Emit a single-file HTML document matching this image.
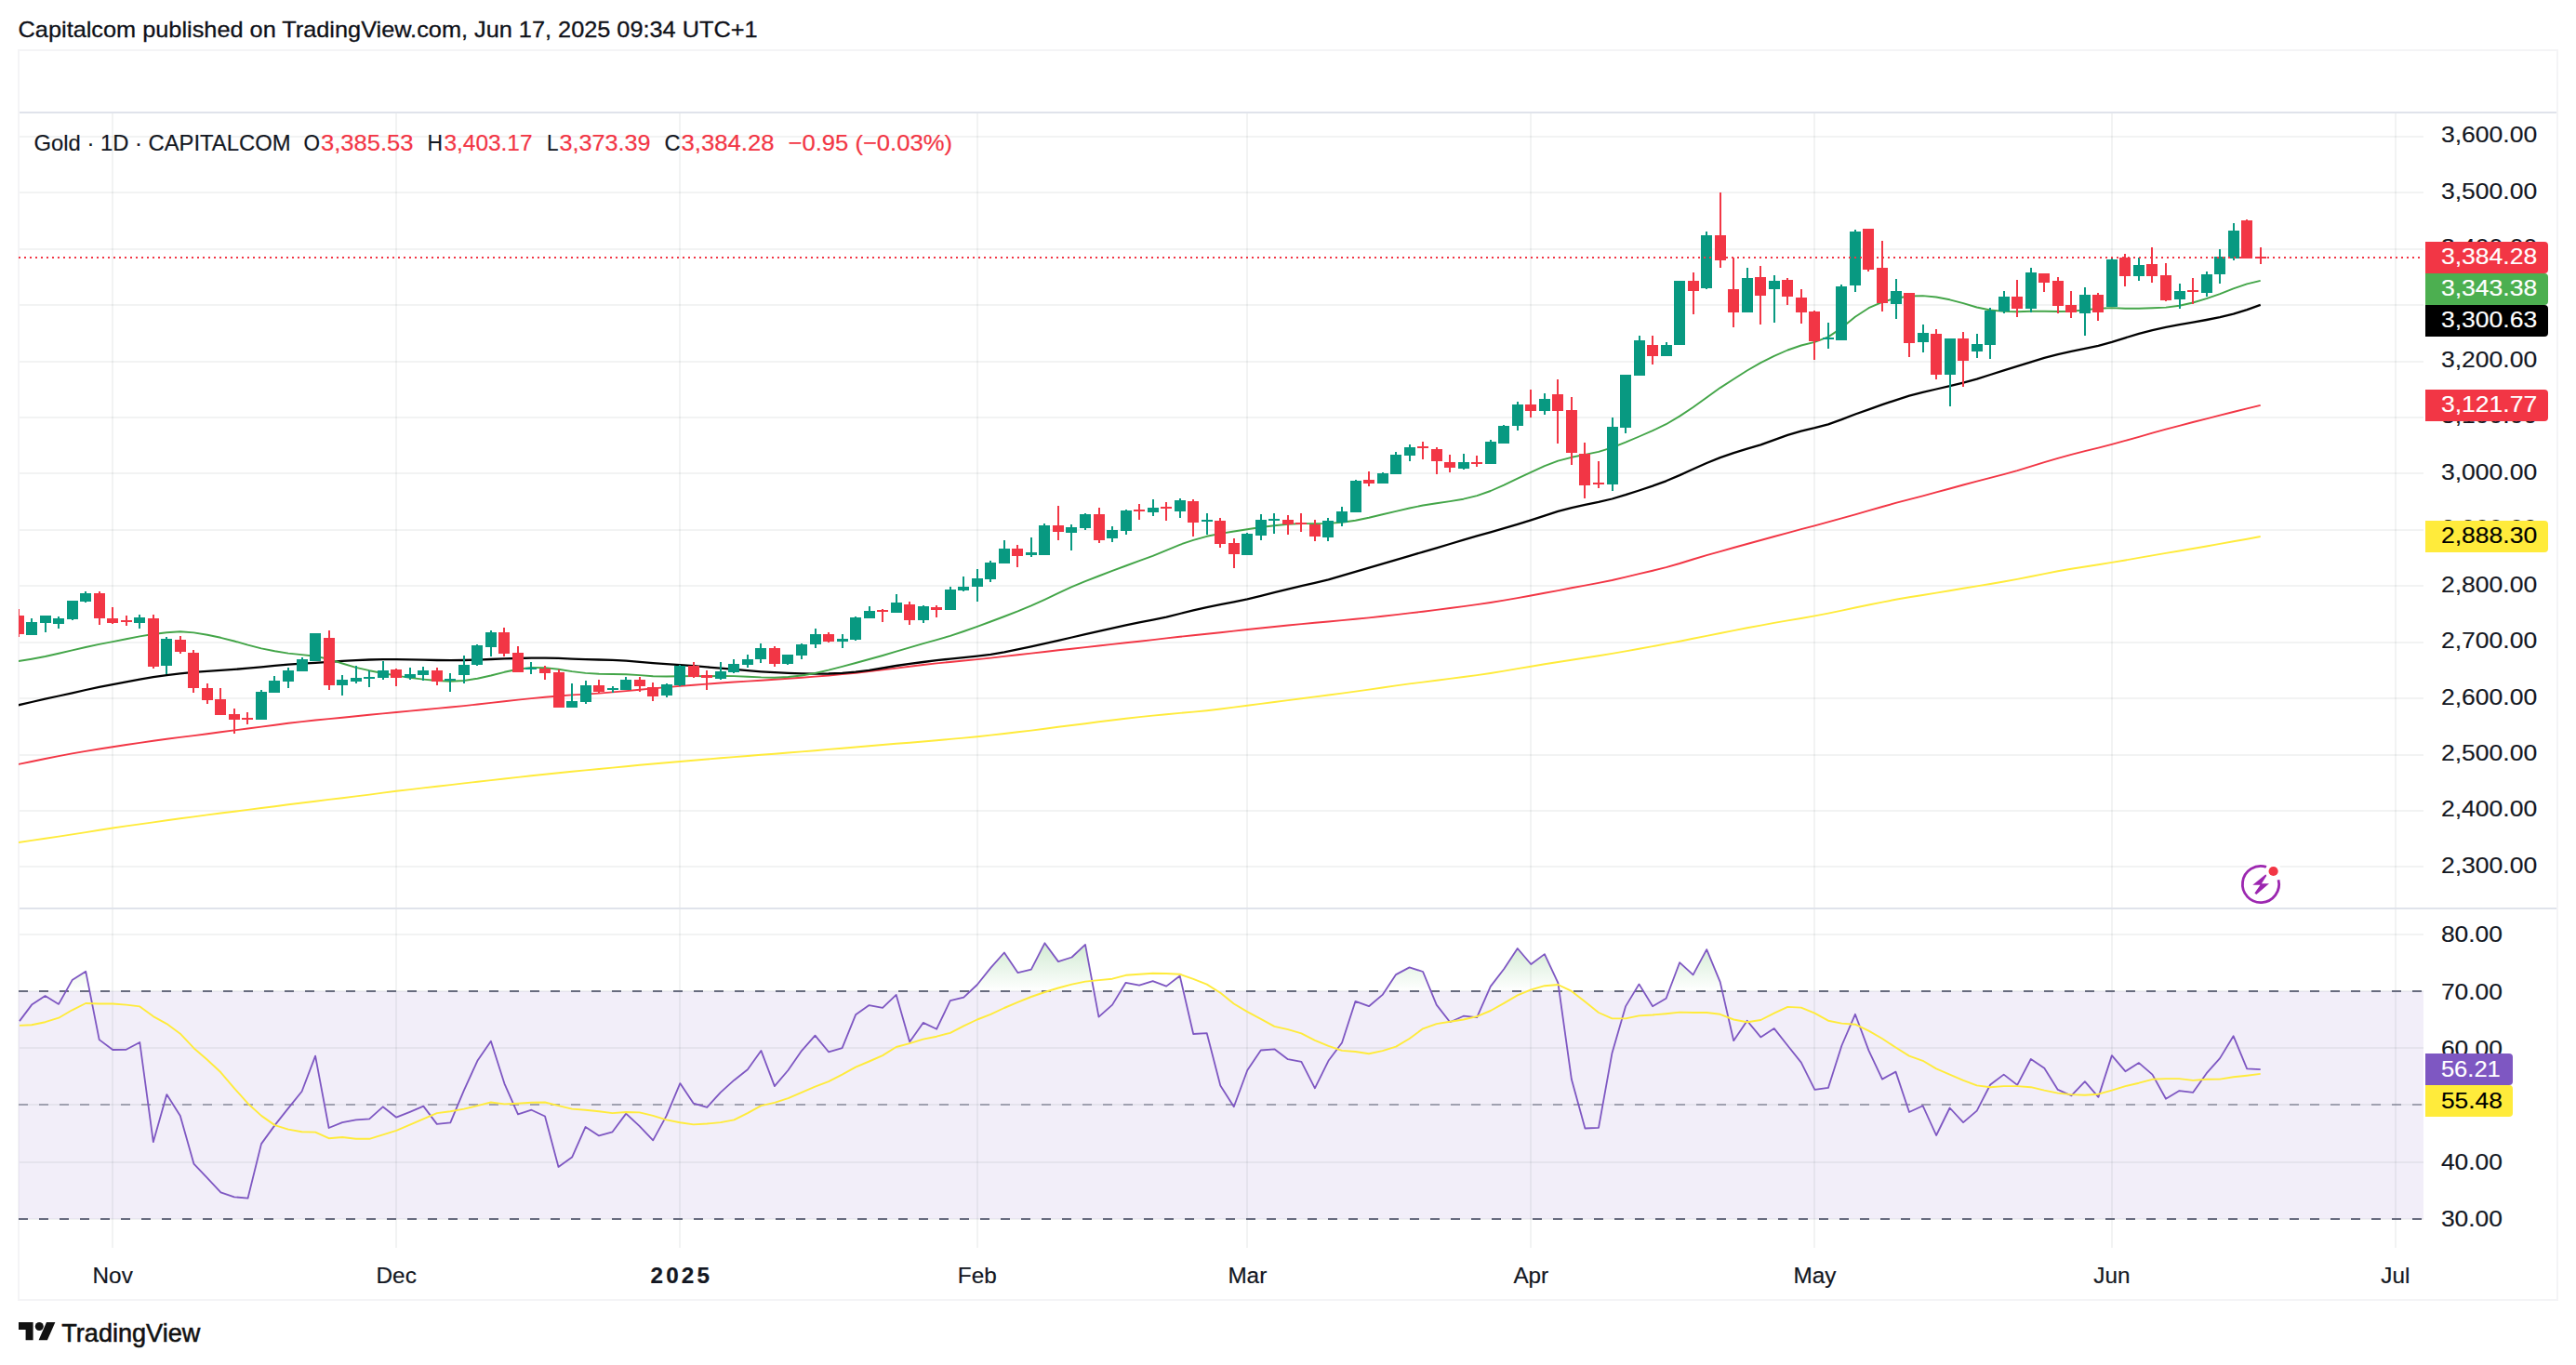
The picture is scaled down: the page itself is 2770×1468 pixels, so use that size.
<!DOCTYPE html>
<html lang="en"><head><meta charset="utf-8"><title>Gold 1D chart</title>
<style>html,body{margin:0;padding:0;background:#fff;width:2770px;height:1468px;overflow:hidden}svg{display:block}svg text{font-family:"Liberation Sans",Arial,sans-serif;white-space:pre}</style></head>
<body>
<svg width="2770" height="1468" viewBox="0 0 2770 1468">
<defs><linearGradient id="ob" gradientUnits="userSpaceOnUse" x1="0" y1="882.4" x2="0" y2="1066.0"><stop offset="0" stop-color="#4CAF50" stop-opacity="1"/><stop offset="1" stop-color="#4CAF50" stop-opacity="0"/></linearGradient>
<clipPath id="main"><rect x="20" y="122" width="2586" height="854"/></clipPath>
<clipPath id="ob70"><rect x="21" y="978" width="2586" height="88.0"/></clipPath></defs>
<rect width="2770" height="1468" fill="#fff"/>
<text x="19.6" y="40" font-size="24" fill="#0f1118" stroke="#0f1118" stroke-width="0.3" textLength="795" lengthAdjust="spacingAndGlyphs">Capitalcom published on TradingView.com, Jun 17, 2025 09:34 UTC+1</text>
<rect x="20" y="54" width="2730" height="1344" fill="none" stroke="#f4f4f6" stroke-width="2"/>
<rect x="20" y="1066.0" width="2586" height="244.8" fill="#7E57C2" fill-opacity="0.1"/>
<rect x="120" y="122" width="2" height="1220" fill="#2a2e39" fill-opacity="0.06"/>
<rect x="425" y="122" width="2" height="1220" fill="#2a2e39" fill-opacity="0.06"/>
<rect x="730" y="122" width="2" height="1220" fill="#2a2e39" fill-opacity="0.06"/>
<rect x="1050" y="122" width="2" height="1220" fill="#2a2e39" fill-opacity="0.06"/>
<rect x="1340" y="122" width="2" height="1220" fill="#2a2e39" fill-opacity="0.06"/>
<rect x="1645" y="122" width="2" height="1220" fill="#2a2e39" fill-opacity="0.06"/>
<rect x="1950" y="122" width="2" height="1220" fill="#2a2e39" fill-opacity="0.06"/>
<rect x="2270" y="122" width="2" height="1220" fill="#2a2e39" fill-opacity="0.06"/>
<rect x="2575" y="122" width="2" height="1220" fill="#2a2e39" fill-opacity="0.06"/>
<rect x="21" y="931" width="2585" height="2" fill="#2a2e39" fill-opacity="0.06"/>
<rect x="21" y="871" width="2585" height="2" fill="#2a2e39" fill-opacity="0.06"/>
<rect x="21" y="811" width="2585" height="2" fill="#2a2e39" fill-opacity="0.06"/>
<rect x="21" y="750" width="2585" height="2" fill="#2a2e39" fill-opacity="0.06"/>
<rect x="21" y="690" width="2585" height="2" fill="#2a2e39" fill-opacity="0.06"/>
<rect x="21" y="629" width="2585" height="2" fill="#2a2e39" fill-opacity="0.06"/>
<rect x="21" y="569" width="2585" height="2" fill="#2a2e39" fill-opacity="0.06"/>
<rect x="21" y="508" width="2585" height="2" fill="#2a2e39" fill-opacity="0.06"/>
<rect x="21" y="448" width="2585" height="2" fill="#2a2e39" fill-opacity="0.06"/>
<rect x="21" y="388" width="2585" height="2" fill="#2a2e39" fill-opacity="0.06"/>
<rect x="21" y="327" width="2585" height="2" fill="#2a2e39" fill-opacity="0.06"/>
<rect x="21" y="267" width="2585" height="2" fill="#2a2e39" fill-opacity="0.06"/>
<rect x="21" y="206" width="2585" height="2" fill="#2a2e39" fill-opacity="0.06"/>
<rect x="21" y="146" width="2585" height="2" fill="#2a2e39" fill-opacity="0.06"/>
<rect x="21" y="1004" width="2585" height="2" fill="#2a2e39" fill-opacity="0.06"/>
<rect x="21" y="1065" width="2585" height="2" fill="#2a2e39" fill-opacity="0.06"/>
<rect x="21" y="1126" width="2585" height="2" fill="#2a2e39" fill-opacity="0.06"/>
<rect x="21" y="1187" width="2585" height="2" fill="#2a2e39" fill-opacity="0.06"/>
<rect x="21" y="1249" width="2585" height="2" fill="#2a2e39" fill-opacity="0.06"/>
<rect x="21" y="1310" width="2585" height="2" fill="#2a2e39" fill-opacity="0.06"/>
<rect x="21" y="120" width="2728" height="2" fill="#e0e3eb"/>
<rect x="21" y="976" width="2728" height="2" fill="#e0e3eb"/>
<g clip-path="url(#main)" fill="none" stroke-linejoin="round" stroke-linecap="butt">
<path d="M5.0 908.1 L19.5 906.0 L34.1 903.9 L48.6 901.8 L63.1 899.6 L77.6 897.4 L92.2 895.1 L106.7 892.8 L121.2 890.5 L135.7 888.4 L150.3 886.4 L164.8 884.4 L179.3 882.3 L193.8 880.3 L208.4 878.4 L222.9 876.4 L237.4 874.5 L251.9 872.7 L266.5 870.9 L281.0 869.0 L295.5 867.2 L310.0 865.3 L324.6 863.5 L339.1 861.7 L353.6 859.9 L368.1 858.2 L382.7 856.4 L397.2 854.6 L411.7 852.6 L426.2 850.8 L440.8 849.1 L455.3 847.4 L469.8 845.7 L484.3 844.1 L498.9 842.4 L513.4 840.7 L527.9 839.1 L542.4 837.5 L557.0 835.9 L571.5 834.3 L586.0 832.8 L600.5 831.3 L615.1 829.8 L629.6 828.4 L644.1 827.0 L658.6 825.6 L673.2 824.2 L687.7 822.8 L702.2 821.5 L716.7 820.2 L731.3 819.0 L745.8 817.8 L760.3 816.5 L774.8 815.3 L789.4 814.1 L803.9 813.0 L818.4 811.8 L832.9 810.7 L847.5 809.5 L862.0 808.4 L876.5 807.2 L891.0 805.9 L905.6 804.7 L920.1 803.5 L934.6 802.3 L949.1 801.0 L963.7 799.8 L978.2 798.7 L992.7 797.5 L1007.2 796.3 L1021.8 794.9 L1036.3 793.6 L1050.8 792.2 L1065.3 790.6 L1079.9 789.0 L1094.4 787.3 L1108.9 785.6 L1123.4 783.7 L1138.0 781.8 L1152.5 780.0 L1167.0 778.2 L1181.5 776.3 L1196.1 774.5 L1210.6 772.7 L1225.1 771.1 L1239.6 769.6 L1254.2 768.2 L1268.7 766.9 L1283.2 765.6 L1297.7 764.2 L1312.3 762.5 L1326.8 760.6 L1341.3 758.7 L1355.8 756.9 L1370.4 755.0 L1384.9 753.1 L1399.4 751.3 L1413.9 749.4 L1428.5 747.5 L1443.0 745.6 L1457.5 743.6 L1472.0 741.6 L1486.6 739.5 L1501.1 737.4 L1515.6 735.4 L1530.1 733.6 L1544.7 731.8 L1559.2 729.9 L1573.7 728.0 L1588.2 726.1 L1602.8 724.0 L1617.3 721.6 L1631.8 719.1 L1646.3 716.7 L1660.9 714.3 L1675.4 712.0 L1689.9 709.7 L1704.4 707.5 L1719.0 705.2 L1733.5 702.9 L1748.0 700.4 L1762.5 697.8 L1777.1 695.1 L1791.6 692.4 L1806.1 689.7 L1820.6 686.8 L1835.2 683.9 L1849.7 681.0 L1864.2 678.1 L1878.7 675.3 L1893.3 672.6 L1907.8 669.9 L1922.3 667.4 L1936.8 665.0 L1951.4 662.4 L1965.9 659.6 L1980.4 656.6 L1994.9 653.5 L2009.5 650.5 L2024.0 647.6 L2038.5 644.8 L2053.0 642.3 L2067.6 640.0 L2082.1 637.6 L2096.6 635.2 L2111.1 632.8 L2125.7 630.4 L2140.2 628.0 L2154.7 625.5 L2169.2 622.9 L2183.8 620.0 L2198.3 617.1 L2212.8 614.3 L2227.3 611.8 L2241.9 609.5 L2256.4 607.3 L2270.9 604.9 L2285.4 602.5 L2300.0 599.9 L2314.5 597.4 L2329.0 594.9 L2343.5 592.5 L2358.1 590.0 L2372.6 587.5 L2387.1 584.9 L2401.6 582.3 L2416.2 579.7 L2430.7 577.0" stroke="#FFEB3B" stroke-width="1.9"/>
<path d="M5.0 825.0 L19.5 822.0 L34.1 819.0 L48.6 816.0 L63.1 813.1 L77.6 810.4 L92.2 807.9 L106.7 805.5 L121.2 803.2 L135.7 801.0 L150.3 798.9 L164.8 796.8 L179.3 794.8 L193.8 792.9 L208.4 791.1 L222.9 789.2 L237.4 787.3 L251.9 785.4 L266.5 783.5 L281.0 781.6 L295.5 779.7 L310.0 777.8 L324.6 776.1 L339.1 774.5 L353.6 773.1 L368.1 771.7 L382.7 770.3 L397.2 768.8 L411.7 767.4 L426.2 766.0 L440.8 764.6 L455.3 763.3 L469.8 761.9 L484.3 760.5 L498.9 759.1 L513.4 757.5 L527.9 755.9 L542.4 754.2 L557.0 752.6 L571.5 751.1 L586.0 749.7 L600.5 748.5 L615.1 747.4 L629.6 746.6 L644.1 745.6 L658.6 744.4 L673.2 743.1 L687.7 741.8 L702.2 740.4 L716.7 739.1 L731.3 737.9 L745.8 736.7 L760.3 735.6 L774.8 734.5 L789.4 733.5 L803.9 732.6 L818.4 731.8 L832.9 730.8 L847.5 729.8 L862.0 728.7 L876.5 727.6 L891.0 726.5 L905.6 725.1 L920.1 723.7 L934.6 722.1 L949.1 720.4 L963.7 718.6 L978.2 716.7 L992.7 715.0 L1007.2 713.4 L1021.8 712.0 L1036.3 710.5 L1050.8 709.1 L1065.3 707.6 L1079.9 705.9 L1094.4 704.3 L1108.9 702.6 L1123.4 701.0 L1138.0 699.3 L1152.5 697.7 L1167.0 696.1 L1181.5 694.5 L1196.1 692.9 L1210.6 691.3 L1225.1 689.7 L1239.6 688.1 L1254.2 686.4 L1268.7 684.8 L1283.2 683.3 L1297.7 681.7 L1312.3 680.2 L1326.8 678.6 L1341.3 677.0 L1355.8 675.5 L1370.4 674.0 L1384.9 672.5 L1399.4 671.1 L1413.9 669.8 L1428.5 668.5 L1443.0 667.1 L1457.5 665.8 L1472.0 664.4 L1486.6 662.8 L1501.1 661.1 L1515.6 659.4 L1530.1 657.7 L1544.7 655.9 L1559.2 654.0 L1573.7 652.1 L1588.2 650.1 L1602.8 648.0 L1617.3 645.6 L1631.8 643.1 L1646.3 640.5 L1660.9 637.8 L1675.4 635.1 L1689.9 632.3 L1704.4 629.6 L1719.0 626.9 L1733.5 624.0 L1748.0 620.6 L1762.5 617.2 L1777.1 613.8 L1791.6 610.1 L1806.1 606.0 L1820.6 601.5 L1835.2 597.2 L1849.7 593.1 L1864.2 589.0 L1878.7 585.0 L1893.3 581.0 L1907.8 577.0 L1922.3 573.1 L1936.8 569.2 L1951.4 565.3 L1965.9 561.3 L1980.4 557.3 L1994.9 553.3 L2009.5 549.1 L2024.0 545.0 L2038.5 540.9 L2053.0 537.1 L2067.6 533.3 L2082.1 529.4 L2096.6 525.5 L2111.1 521.5 L2125.7 517.6 L2140.2 513.8 L2154.7 510.1 L2169.2 506.1 L2183.8 501.7 L2198.3 497.1 L2212.8 492.8 L2227.3 488.9 L2241.9 485.2 L2256.4 481.6 L2270.9 477.9 L2285.4 473.9 L2300.0 469.8 L2314.5 465.7 L2329.0 461.7 L2343.5 457.8 L2358.1 454.0 L2372.6 450.3 L2387.1 446.6 L2401.6 443.0 L2416.2 439.4 L2430.7 435.8" stroke="#F23645" stroke-width="1.9"/>
<path d="M5.0 761.7 L19.5 758.4 L34.1 755.0 L48.6 751.7 L63.1 748.5 L77.6 745.3 L92.2 742.0 L106.7 738.9 L121.2 736.1 L135.7 733.3 L150.3 730.6 L164.8 728.2 L179.3 726.1 L193.8 724.3 L208.4 722.9 L222.9 721.8 L237.4 720.9 L251.9 719.9 L266.5 718.7 L281.0 717.3 L295.5 715.9 L310.0 714.7 L324.6 713.7 L339.1 712.8 L353.6 711.8 L368.1 710.8 L382.7 710.1 L397.2 709.5 L411.7 709.1 L426.2 709.1 L440.8 709.4 L455.3 709.7 L469.8 710.0 L484.3 710.2 L498.9 710.0 L513.4 709.6 L527.9 709.0 L542.4 708.4 L557.0 708.0 L571.5 707.7 L586.0 707.6 L600.5 707.9 L615.1 708.6 L629.6 709.2 L644.1 709.5 L658.6 709.9 L673.2 710.7 L687.7 711.8 L702.2 713.1 L716.7 714.2 L731.3 715.2 L745.8 716.2 L760.3 717.4 L774.8 718.7 L789.4 719.9 L803.9 721.1 L818.4 722.3 L832.9 723.2 L847.5 723.9 L862.0 724.4 L876.5 724.6 L891.0 724.5 L905.6 723.9 L920.1 722.7 L934.6 720.9 L949.1 718.5 L963.7 716.0 L978.2 713.9 L992.7 712.0 L1007.2 710.2 L1021.8 708.6 L1036.3 707.1 L1050.8 705.6 L1065.3 703.8 L1079.9 701.3 L1094.4 698.4 L1108.9 695.3 L1123.4 692.1 L1138.0 688.8 L1152.5 685.5 L1167.0 682.2 L1181.5 678.9 L1196.1 675.6 L1210.6 672.3 L1225.1 669.3 L1239.6 666.6 L1254.2 663.6 L1268.7 660.0 L1283.2 656.4 L1297.7 653.1 L1312.3 650.2 L1326.8 647.4 L1341.3 644.4 L1355.8 640.9 L1370.4 637.2 L1384.9 633.7 L1399.4 630.2 L1413.9 626.9 L1428.5 623.3 L1443.0 619.1 L1457.5 614.8 L1472.0 610.6 L1486.6 606.4 L1501.1 602.1 L1515.6 597.8 L1530.1 593.6 L1544.7 589.4 L1559.2 585.0 L1573.7 580.6 L1588.2 576.4 L1602.8 572.3 L1617.3 568.2 L1631.8 563.9 L1646.3 559.4 L1660.9 554.6 L1675.4 549.9 L1689.9 546.1 L1704.4 542.8 L1719.0 539.9 L1733.5 536.5 L1748.0 532.2 L1762.5 527.5 L1777.1 522.6 L1791.6 517.3 L1806.1 511.1 L1820.6 504.5 L1835.2 498.0 L1849.7 492.1 L1864.2 487.1 L1878.7 482.7 L1893.3 478.3 L1907.8 473.1 L1922.3 467.9 L1936.8 463.7 L1951.4 460.2 L1965.9 456.3 L1980.4 451.1 L1994.9 445.5 L2009.5 440.3 L2024.0 435.2 L2038.5 430.3 L2053.0 425.7 L2067.6 421.8 L2082.1 418.5 L2096.6 415.1 L2111.1 411.6 L2125.7 407.6 L2140.2 403.0 L2154.7 398.3 L2169.2 393.9 L2183.8 389.3 L2198.3 384.9 L2212.8 381.1 L2227.3 377.9 L2241.9 374.9 L2256.4 371.8 L2270.9 367.8 L2285.4 363.3 L2300.0 358.9 L2314.5 355.1 L2329.0 351.9 L2343.5 349.2 L2358.1 346.6 L2372.6 344.0 L2387.1 341.2 L2401.6 337.6 L2416.2 333.1 L2430.7 327.9" stroke="#000000" stroke-width="2.3"/>
<path d="M5.0 713.5 L19.5 711.1 L34.1 708.7 L48.6 706.0 L63.1 702.7 L77.6 699.3 L92.2 696.0 L106.7 692.9 L121.2 690.1 L135.7 687.2 L150.3 684.4 L164.8 682.0 L179.3 680.2 L193.8 679.3 L208.4 680.4 L222.9 682.7 L237.4 685.8 L251.9 689.5 L266.5 693.7 L281.0 697.4 L295.5 700.3 L310.0 702.6 L324.6 704.1 L339.1 705.7 L353.6 708.9 L368.1 713.5 L382.7 717.8 L397.2 721.2 L411.7 724.0 L426.2 726.6 L440.8 728.9 L455.3 730.6 L469.8 732.0 L484.3 732.8 L498.9 732.0 L513.4 729.7 L527.9 726.5 L542.4 722.8 L557.0 719.7 L571.5 718.0 L586.0 718.1 L600.5 719.7 L615.1 722.1 L629.6 723.9 L644.1 724.7 L658.6 725.0 L673.2 725.3 L687.7 726.1 L702.2 727.2 L716.7 727.5 L731.3 727.2 L745.8 727.1 L760.3 727.2 L774.8 727.0 L789.4 727.1 L803.9 727.7 L818.4 728.4 L832.9 728.7 L847.5 728.0 L862.0 726.5 L876.5 724.0 L891.0 720.6 L905.6 716.8 L920.1 713.0 L934.6 709.0 L949.1 705.0 L963.7 700.7 L978.2 696.4 L992.7 692.2 L1007.2 688.2 L1021.8 683.9 L1036.3 679.0 L1050.8 673.8 L1065.3 668.5 L1079.9 663.0 L1094.4 657.4 L1108.9 651.4 L1123.4 644.8 L1138.0 637.9 L1152.5 631.2 L1167.0 625.1 L1181.5 619.5 L1196.1 613.9 L1210.6 608.5 L1225.1 603.2 L1239.6 597.8 L1254.2 591.8 L1268.7 585.8 L1283.2 580.8 L1297.7 576.8 L1312.3 573.9 L1326.8 571.5 L1341.3 569.2 L1355.8 567.0 L1370.4 565.3 L1384.9 563.8 L1399.4 563.1 L1413.9 563.1 L1428.5 562.9 L1443.0 561.8 L1457.5 559.7 L1472.0 556.7 L1486.6 553.3 L1501.1 549.9 L1515.6 546.5 L1530.1 543.5 L1544.7 541.2 L1559.2 539.1 L1573.7 536.7 L1588.2 533.1 L1602.8 528.0 L1617.3 521.6 L1631.8 514.7 L1646.3 507.8 L1660.9 501.2 L1675.4 495.7 L1689.9 491.8 L1704.4 488.9 L1719.0 485.9 L1733.5 481.4 L1748.0 475.7 L1762.5 469.5 L1777.1 463.2 L1791.6 456.2 L1806.1 447.6 L1820.6 438.0 L1835.2 427.5 L1849.7 417.1 L1864.2 407.7 L1878.7 398.5 L1893.3 390.2 L1907.8 382.9 L1922.3 376.5 L1936.8 371.5 L1951.4 367.8 L1965.9 362.4 L1980.4 352.6 L1994.9 340.8 L2009.5 331.2 L2024.0 324.8 L2038.5 320.7 L2053.0 318.5 L2067.6 318.1 L2082.1 319.5 L2096.6 322.3 L2111.1 326.1 L2125.7 330.5 L2140.2 333.5 L2154.7 334.9 L2169.2 335.2 L2183.8 334.8 L2198.3 334.8 L2212.8 335.0 L2227.3 334.7 L2241.9 333.4 L2256.4 331.7 L2270.9 331.1 L2285.4 331.8 L2300.0 331.8 L2314.5 331.3 L2329.0 330.6 L2343.5 328.7 L2358.1 325.5 L2372.6 321.2 L2387.1 316.1 L2401.6 310.3 L2416.2 305.3 L2430.7 301.9" stroke="#43A548" stroke-width="1.9"/>
</g>
<g clip-path="url(#main)" shape-rendering="crispEdges">
<rect x="19" y="655" width="2" height="30" fill="#F23645"/>
<rect x="14" y="662" width="12" height="20" fill="#F23645"/>
<rect x="33" y="665" width="2" height="18" fill="#089981"/>
<rect x="28" y="669" width="12" height="14" fill="#089981"/>
<rect x="48" y="662" width="2" height="18" fill="#089981"/>
<rect x="43" y="662" width="12" height="8" fill="#089981"/>
<rect x="62" y="663" width="2" height="13" fill="#089981"/>
<rect x="57" y="665" width="12" height="6" fill="#089981"/>
<rect x="77" y="646" width="2" height="21" fill="#089981"/>
<rect x="72" y="646" width="12" height="20" fill="#089981"/>
<rect x="91" y="636" width="2" height="12" fill="#089981"/>
<rect x="86" y="638" width="12" height="9" fill="#089981"/>
<rect x="106" y="636" width="2" height="36" fill="#F23645"/>
<rect x="101" y="638" width="12" height="27" fill="#F23645"/>
<rect x="120" y="653" width="2" height="18" fill="#F23645"/>
<rect x="115" y="665" width="12" height="5" fill="#F23645"/>
<rect x="135" y="662" width="2" height="11" fill="#F23645"/>
<rect x="130" y="667" width="12" height="2" fill="#F23645"/>
<rect x="149" y="661" width="2" height="15" fill="#089981"/>
<rect x="144" y="664" width="12" height="6" fill="#089981"/>
<rect x="164" y="661" width="2" height="58" fill="#F23645"/>
<rect x="159" y="665" width="12" height="52" fill="#F23645"/>
<rect x="178" y="685" width="2" height="40" fill="#089981"/>
<rect x="173" y="687" width="12" height="29" fill="#089981"/>
<rect x="193" y="684" width="2" height="19" fill="#F23645"/>
<rect x="188" y="688" width="12" height="13" fill="#F23645"/>
<rect x="207" y="699" width="2" height="46" fill="#F23645"/>
<rect x="202" y="702" width="12" height="38" fill="#F23645"/>
<rect x="222" y="735" width="2" height="22" fill="#F23645"/>
<rect x="217" y="740" width="12" height="13" fill="#F23645"/>
<rect x="236" y="740" width="2" height="29" fill="#F23645"/>
<rect x="231" y="752" width="12" height="17" fill="#F23645"/>
<rect x="251" y="762" width="2" height="27" fill="#F23645"/>
<rect x="246" y="768" width="12" height="6" fill="#F23645"/>
<rect x="265" y="766" width="2" height="13" fill="#F23645"/>
<rect x="260" y="772" width="12" height="2" fill="#F23645"/>
<rect x="280" y="742" width="2" height="32" fill="#089981"/>
<rect x="275" y="744" width="12" height="30" fill="#089981"/>
<rect x="294" y="727" width="2" height="18" fill="#089981"/>
<rect x="289" y="732" width="12" height="13" fill="#089981"/>
<rect x="309" y="718" width="2" height="22" fill="#089981"/>
<rect x="304" y="721" width="12" height="12" fill="#089981"/>
<rect x="324" y="707" width="2" height="15" fill="#089981"/>
<rect x="319" y="709" width="12" height="13" fill="#089981"/>
<rect x="338" y="681" width="2" height="30" fill="#089981"/>
<rect x="333" y="681" width="12" height="30" fill="#089981"/>
<rect x="353" y="678" width="2" height="64" fill="#F23645"/>
<rect x="348" y="686" width="12" height="51" fill="#F23645"/>
<rect x="367" y="726" width="2" height="22" fill="#089981"/>
<rect x="362" y="731" width="12" height="6" fill="#089981"/>
<rect x="382" y="716" width="2" height="19" fill="#089981"/>
<rect x="377" y="729" width="12" height="4" fill="#089981"/>
<rect x="396" y="721" width="2" height="18" fill="#089981"/>
<rect x="391" y="728" width="12" height="2" fill="#089981"/>
<rect x="411" y="711" width="2" height="20" fill="#089981"/>
<rect x="406" y="721" width="12" height="8" fill="#089981"/>
<rect x="425" y="719" width="2" height="19" fill="#F23645"/>
<rect x="420" y="720" width="12" height="9" fill="#F23645"/>
<rect x="440" y="718" width="2" height="13" fill="#089981"/>
<rect x="435" y="725" width="12" height="4" fill="#089981"/>
<rect x="454" y="717" width="2" height="15" fill="#089981"/>
<rect x="449" y="721" width="12" height="5" fill="#089981"/>
<rect x="469" y="718" width="2" height="19" fill="#F23645"/>
<rect x="464" y="721" width="12" height="12" fill="#F23645"/>
<rect x="483" y="724" width="2" height="20" fill="#089981"/>
<rect x="478" y="730" width="12" height="2" fill="#089981"/>
<rect x="498" y="705" width="2" height="30" fill="#089981"/>
<rect x="493" y="715" width="12" height="11" fill="#089981"/>
<rect x="512" y="693" width="2" height="23" fill="#089981"/>
<rect x="507" y="694" width="12" height="21" fill="#089981"/>
<rect x="527" y="678" width="2" height="28" fill="#089981"/>
<rect x="522" y="680" width="12" height="16" fill="#089981"/>
<rect x="541" y="675" width="2" height="31" fill="#F23645"/>
<rect x="536" y="680" width="12" height="23" fill="#F23645"/>
<rect x="556" y="695" width="2" height="28" fill="#F23645"/>
<rect x="551" y="702" width="12" height="21" fill="#F23645"/>
<rect x="570" y="712" width="2" height="13" fill="#089981"/>
<rect x="565" y="718" width="12" height="2" fill="#089981"/>
<rect x="585" y="716" width="2" height="15" fill="#F23645"/>
<rect x="580" y="719" width="12" height="5" fill="#F23645"/>
<rect x="600" y="720" width="2" height="41" fill="#F23645"/>
<rect x="595" y="723" width="12" height="38" fill="#F23645"/>
<rect x="614" y="735" width="2" height="26" fill="#089981"/>
<rect x="609" y="754" width="12" height="7" fill="#089981"/>
<rect x="629" y="732" width="2" height="25" fill="#089981"/>
<rect x="624" y="737" width="12" height="18" fill="#089981"/>
<rect x="643" y="731" width="2" height="14" fill="#F23645"/>
<rect x="638" y="737" width="12" height="7" fill="#F23645"/>
<rect x="658" y="738" width="2" height="7" fill="#089981"/>
<rect x="653" y="740" width="12" height="2" fill="#089981"/>
<rect x="672" y="728" width="2" height="14" fill="#089981"/>
<rect x="667" y="731" width="12" height="11" fill="#089981"/>
<rect x="687" y="728" width="2" height="16" fill="#F23645"/>
<rect x="682" y="731" width="12" height="7" fill="#F23645"/>
<rect x="701" y="734" width="2" height="20" fill="#F23645"/>
<rect x="696" y="739" width="12" height="10" fill="#F23645"/>
<rect x="716" y="735" width="2" height="15" fill="#089981"/>
<rect x="711" y="736" width="12" height="12" fill="#089981"/>
<rect x="730" y="715" width="2" height="23" fill="#089981"/>
<rect x="725" y="716" width="12" height="21" fill="#089981"/>
<rect x="745" y="712" width="2" height="17" fill="#F23645"/>
<rect x="740" y="716" width="12" height="12" fill="#F23645"/>
<rect x="759" y="721" width="2" height="21" fill="#F23645"/>
<rect x="754" y="726" width="12" height="3" fill="#F23645"/>
<rect x="774" y="712" width="2" height="19" fill="#089981"/>
<rect x="769" y="722" width="12" height="8" fill="#089981"/>
<rect x="788" y="709" width="2" height="15" fill="#089981"/>
<rect x="783" y="714" width="12" height="9" fill="#089981"/>
<rect x="803" y="704" width="2" height="14" fill="#089981"/>
<rect x="798" y="709" width="12" height="6" fill="#089981"/>
<rect x="817" y="692" width="2" height="21" fill="#089981"/>
<rect x="812" y="697" width="12" height="12" fill="#089981"/>
<rect x="832" y="695" width="2" height="22" fill="#F23645"/>
<rect x="827" y="697" width="12" height="17" fill="#F23645"/>
<rect x="846" y="704" width="2" height="11" fill="#089981"/>
<rect x="841" y="704" width="12" height="10" fill="#089981"/>
<rect x="861" y="692" width="2" height="17" fill="#089981"/>
<rect x="856" y="693" width="12" height="12" fill="#089981"/>
<rect x="876" y="676" width="2" height="21" fill="#089981"/>
<rect x="871" y="682" width="12" height="11" fill="#089981"/>
<rect x="890" y="680" width="2" height="11" fill="#F23645"/>
<rect x="885" y="682" width="12" height="8" fill="#F23645"/>
<rect x="905" y="682" width="2" height="15" fill="#089981"/>
<rect x="900" y="687" width="12" height="3" fill="#089981"/>
<rect x="919" y="663" width="2" height="26" fill="#089981"/>
<rect x="914" y="664" width="12" height="24" fill="#089981"/>
<rect x="934" y="652" width="2" height="13" fill="#089981"/>
<rect x="929" y="657" width="12" height="8" fill="#089981"/>
<rect x="948" y="655" width="2" height="14" fill="#F23645"/>
<rect x="943" y="656" width="12" height="2" fill="#F23645"/>
<rect x="963" y="639" width="2" height="20" fill="#089981"/>
<rect x="958" y="648" width="12" height="11" fill="#089981"/>
<rect x="977" y="647" width="2" height="25" fill="#F23645"/>
<rect x="972" y="650" width="12" height="17" fill="#F23645"/>
<rect x="992" y="651" width="2" height="19" fill="#089981"/>
<rect x="987" y="652" width="12" height="15" fill="#089981"/>
<rect x="1006" y="651" width="2" height="13" fill="#F23645"/>
<rect x="1001" y="653" width="12" height="3" fill="#F23645"/>
<rect x="1021" y="631" width="2" height="25" fill="#089981"/>
<rect x="1016" y="634" width="12" height="22" fill="#089981"/>
<rect x="1035" y="620" width="2" height="16" fill="#089981"/>
<rect x="1030" y="631" width="12" height="4" fill="#089981"/>
<rect x="1050" y="612" width="2" height="35" fill="#089981"/>
<rect x="1045" y="622" width="12" height="9" fill="#089981"/>
<rect x="1064" y="603" width="2" height="23" fill="#089981"/>
<rect x="1059" y="605" width="12" height="18" fill="#089981"/>
<rect x="1079" y="581" width="2" height="25" fill="#089981"/>
<rect x="1074" y="590" width="12" height="16" fill="#089981"/>
<rect x="1093" y="586" width="2" height="24" fill="#F23645"/>
<rect x="1088" y="590" width="12" height="8" fill="#F23645"/>
<rect x="1108" y="578" width="2" height="21" fill="#089981"/>
<rect x="1103" y="594" width="12" height="3" fill="#089981"/>
<rect x="1122" y="563" width="2" height="34" fill="#089981"/>
<rect x="1117" y="565" width="12" height="32" fill="#089981"/>
<rect x="1137" y="544" width="2" height="37" fill="#F23645"/>
<rect x="1132" y="565" width="12" height="7" fill="#F23645"/>
<rect x="1151" y="564" width="2" height="28" fill="#089981"/>
<rect x="1146" y="567" width="12" height="6" fill="#089981"/>
<rect x="1166" y="552" width="2" height="18" fill="#089981"/>
<rect x="1161" y="553" width="12" height="15" fill="#089981"/>
<rect x="1181" y="546" width="2" height="38" fill="#F23645"/>
<rect x="1176" y="553" width="12" height="28" fill="#F23645"/>
<rect x="1195" y="566" width="2" height="17" fill="#089981"/>
<rect x="1190" y="570" width="12" height="9" fill="#089981"/>
<rect x="1210" y="548" width="2" height="27" fill="#089981"/>
<rect x="1205" y="549" width="12" height="22" fill="#089981"/>
<rect x="1224" y="542" width="2" height="17" fill="#F23645"/>
<rect x="1219" y="548" width="12" height="2" fill="#F23645"/>
<rect x="1239" y="537" width="2" height="18" fill="#089981"/>
<rect x="1234" y="546" width="12" height="5" fill="#089981"/>
<rect x="1253" y="540" width="2" height="20" fill="#F23645"/>
<rect x="1248" y="545" width="12" height="2" fill="#F23645"/>
<rect x="1268" y="536" width="2" height="21" fill="#089981"/>
<rect x="1263" y="538" width="12" height="12" fill="#089981"/>
<rect x="1282" y="537" width="2" height="40" fill="#F23645"/>
<rect x="1277" y="539" width="12" height="23" fill="#F23645"/>
<rect x="1297" y="552" width="2" height="23" fill="#089981"/>
<rect x="1292" y="559" width="12" height="2" fill="#089981"/>
<rect x="1311" y="557" width="2" height="32" fill="#F23645"/>
<rect x="1306" y="560" width="12" height="25" fill="#F23645"/>
<rect x="1326" y="579" width="2" height="32" fill="#F23645"/>
<rect x="1321" y="584" width="12" height="12" fill="#F23645"/>
<rect x="1340" y="573" width="2" height="24" fill="#089981"/>
<rect x="1335" y="574" width="12" height="23" fill="#089981"/>
<rect x="1355" y="553" width="2" height="28" fill="#089981"/>
<rect x="1350" y="559" width="12" height="17" fill="#089981"/>
<rect x="1369" y="552" width="2" height="22" fill="#089981"/>
<rect x="1364" y="558" width="12" height="2" fill="#089981"/>
<rect x="1384" y="554" width="2" height="21" fill="#F23645"/>
<rect x="1379" y="559" width="12" height="5" fill="#F23645"/>
<rect x="1398" y="552" width="2" height="20" fill="#F23645"/>
<rect x="1393" y="562" width="12" height="2" fill="#F23645"/>
<rect x="1413" y="559" width="2" height="23" fill="#F23645"/>
<rect x="1408" y="564" width="12" height="13" fill="#F23645"/>
<rect x="1427" y="557" width="2" height="25" fill="#089981"/>
<rect x="1422" y="560" width="12" height="18" fill="#089981"/>
<rect x="1442" y="545" width="2" height="21" fill="#089981"/>
<rect x="1437" y="550" width="12" height="12" fill="#089981"/>
<rect x="1457" y="516" width="2" height="35" fill="#089981"/>
<rect x="1452" y="517" width="12" height="34" fill="#089981"/>
<rect x="1471" y="507" width="2" height="16" fill="#F23645"/>
<rect x="1466" y="516" width="12" height="4" fill="#F23645"/>
<rect x="1486" y="508" width="2" height="12" fill="#089981"/>
<rect x="1481" y="509" width="12" height="11" fill="#089981"/>
<rect x="1500" y="486" width="2" height="24" fill="#089981"/>
<rect x="1495" y="489" width="12" height="21" fill="#089981"/>
<rect x="1515" y="478" width="2" height="18" fill="#089981"/>
<rect x="1510" y="481" width="12" height="9" fill="#089981"/>
<rect x="1529" y="475" width="2" height="19" fill="#F23645"/>
<rect x="1524" y="480" width="12" height="2" fill="#F23645"/>
<rect x="1544" y="481" width="2" height="29" fill="#F23645"/>
<rect x="1539" y="483" width="12" height="13" fill="#F23645"/>
<rect x="1558" y="489" width="2" height="19" fill="#F23645"/>
<rect x="1553" y="497" width="12" height="6" fill="#F23645"/>
<rect x="1573" y="488" width="2" height="17" fill="#089981"/>
<rect x="1568" y="497" width="12" height="7" fill="#089981"/>
<rect x="1587" y="490" width="2" height="12" fill="#F23645"/>
<rect x="1582" y="497" width="12" height="2" fill="#F23645"/>
<rect x="1602" y="473" width="2" height="26" fill="#089981"/>
<rect x="1597" y="475" width="12" height="24" fill="#089981"/>
<rect x="1616" y="457" width="2" height="20" fill="#089981"/>
<rect x="1611" y="458" width="12" height="19" fill="#089981"/>
<rect x="1631" y="432" width="2" height="31" fill="#089981"/>
<rect x="1626" y="435" width="12" height="23" fill="#089981"/>
<rect x="1645" y="419" width="2" height="30" fill="#F23645"/>
<rect x="1640" y="435" width="12" height="7" fill="#F23645"/>
<rect x="1660" y="423" width="2" height="23" fill="#089981"/>
<rect x="1655" y="429" width="12" height="13" fill="#089981"/>
<rect x="1674" y="408" width="2" height="69" fill="#F23645"/>
<rect x="1669" y="424" width="12" height="18" fill="#F23645"/>
<rect x="1689" y="427" width="2" height="73" fill="#F23645"/>
<rect x="1684" y="441" width="12" height="46" fill="#F23645"/>
<rect x="1703" y="476" width="2" height="60" fill="#F23645"/>
<rect x="1698" y="488" width="12" height="34" fill="#F23645"/>
<rect x="1718" y="496" width="2" height="29" fill="#F23645"/>
<rect x="1713" y="519" width="12" height="2" fill="#F23645"/>
<rect x="1733" y="449" width="2" height="79" fill="#089981"/>
<rect x="1728" y="459" width="12" height="62" fill="#089981"/>
<rect x="1747" y="403" width="2" height="63" fill="#089981"/>
<rect x="1742" y="403" width="12" height="57" fill="#089981"/>
<rect x="1762" y="361" width="2" height="43" fill="#089981"/>
<rect x="1757" y="366" width="12" height="38" fill="#089981"/>
<rect x="1776" y="361" width="2" height="31" fill="#F23645"/>
<rect x="1771" y="371" width="12" height="12" fill="#F23645"/>
<rect x="1791" y="368" width="2" height="15" fill="#089981"/>
<rect x="1786" y="371" width="12" height="12" fill="#089981"/>
<rect x="1805" y="302" width="2" height="69" fill="#089981"/>
<rect x="1800" y="302" width="12" height="69" fill="#089981"/>
<rect x="1820" y="293" width="2" height="45" fill="#F23645"/>
<rect x="1815" y="302" width="12" height="11" fill="#F23645"/>
<rect x="1834" y="249" width="2" height="62" fill="#089981"/>
<rect x="1829" y="253" width="12" height="57" fill="#089981"/>
<rect x="1849" y="207" width="2" height="81" fill="#F23645"/>
<rect x="1844" y="253" width="12" height="27" fill="#F23645"/>
<rect x="1863" y="277" width="2" height="75" fill="#F23645"/>
<rect x="1858" y="311" width="12" height="25" fill="#F23645"/>
<rect x="1878" y="288" width="2" height="48" fill="#089981"/>
<rect x="1873" y="299" width="12" height="37" fill="#089981"/>
<rect x="1892" y="286" width="2" height="63" fill="#F23645"/>
<rect x="1887" y="298" width="12" height="20" fill="#F23645"/>
<rect x="1907" y="296" width="2" height="51" fill="#089981"/>
<rect x="1902" y="302" width="12" height="9" fill="#089981"/>
<rect x="1921" y="299" width="2" height="29" fill="#F23645"/>
<rect x="1916" y="301" width="12" height="18" fill="#F23645"/>
<rect x="1936" y="311" width="2" height="37" fill="#F23645"/>
<rect x="1931" y="320" width="12" height="16" fill="#F23645"/>
<rect x="1950" y="334" width="2" height="53" fill="#F23645"/>
<rect x="1945" y="335" width="12" height="32" fill="#F23645"/>
<rect x="1965" y="347" width="2" height="28" fill="#089981"/>
<rect x="1960" y="363" width="12" height="2" fill="#089981"/>
<rect x="1979" y="306" width="2" height="60" fill="#089981"/>
<rect x="1974" y="308" width="12" height="58" fill="#089981"/>
<rect x="1994" y="247" width="2" height="67" fill="#089981"/>
<rect x="1989" y="249" width="12" height="58" fill="#089981"/>
<rect x="2008" y="246" width="2" height="46" fill="#F23645"/>
<rect x="2003" y="246" width="12" height="44" fill="#F23645"/>
<rect x="2023" y="259" width="2" height="76" fill="#F23645"/>
<rect x="2018" y="288" width="12" height="38" fill="#F23645"/>
<rect x="2038" y="300" width="2" height="43" fill="#089981"/>
<rect x="2033" y="313" width="12" height="14" fill="#089981"/>
<rect x="2052" y="315" width="2" height="69" fill="#F23645"/>
<rect x="2047" y="315" width="12" height="54" fill="#F23645"/>
<rect x="2067" y="349" width="2" height="30" fill="#089981"/>
<rect x="2062" y="358" width="12" height="10" fill="#089981"/>
<rect x="2081" y="354" width="2" height="54" fill="#F23645"/>
<rect x="2076" y="359" width="12" height="44" fill="#F23645"/>
<rect x="2096" y="364" width="2" height="73" fill="#089981"/>
<rect x="2091" y="364" width="12" height="39" fill="#089981"/>
<rect x="2110" y="357" width="2" height="59" fill="#F23645"/>
<rect x="2105" y="364" width="12" height="24" fill="#F23645"/>
<rect x="2125" y="359" width="2" height="26" fill="#089981"/>
<rect x="2120" y="370" width="12" height="8" fill="#089981"/>
<rect x="2139" y="331" width="2" height="55" fill="#089981"/>
<rect x="2134" y="334" width="12" height="37" fill="#089981"/>
<rect x="2154" y="313" width="2" height="24" fill="#089981"/>
<rect x="2149" y="319" width="12" height="16" fill="#089981"/>
<rect x="2168" y="301" width="2" height="40" fill="#F23645"/>
<rect x="2163" y="319" width="12" height="13" fill="#F23645"/>
<rect x="2183" y="288" width="2" height="48" fill="#089981"/>
<rect x="2178" y="293" width="12" height="39" fill="#089981"/>
<rect x="2197" y="294" width="2" height="20" fill="#F23645"/>
<rect x="2192" y="294" width="12" height="10" fill="#F23645"/>
<rect x="2212" y="298" width="2" height="39" fill="#F23645"/>
<rect x="2207" y="302" width="12" height="27" fill="#F23645"/>
<rect x="2226" y="313" width="2" height="29" fill="#F23645"/>
<rect x="2221" y="328" width="12" height="8" fill="#F23645"/>
<rect x="2241" y="309" width="2" height="52" fill="#089981"/>
<rect x="2236" y="317" width="12" height="20" fill="#089981"/>
<rect x="2255" y="315" width="2" height="30" fill="#F23645"/>
<rect x="2250" y="317" width="12" height="19" fill="#F23645"/>
<rect x="2270" y="278" width="2" height="52" fill="#089981"/>
<rect x="2265" y="279" width="12" height="51" fill="#089981"/>
<rect x="2284" y="273" width="2" height="35" fill="#F23645"/>
<rect x="2279" y="277" width="12" height="20" fill="#F23645"/>
<rect x="2299" y="277" width="2" height="25" fill="#089981"/>
<rect x="2294" y="285" width="12" height="12" fill="#089981"/>
<rect x="2313" y="266" width="2" height="38" fill="#F23645"/>
<rect x="2308" y="284" width="12" height="13" fill="#F23645"/>
<rect x="2328" y="283" width="2" height="41" fill="#F23645"/>
<rect x="2323" y="296" width="12" height="27" fill="#F23645"/>
<rect x="2343" y="305" width="2" height="27" fill="#089981"/>
<rect x="2338" y="313" width="12" height="9" fill="#089981"/>
<rect x="2357" y="299" width="2" height="28" fill="#F23645"/>
<rect x="2352" y="312" width="12" height="2" fill="#F23645"/>
<rect x="2372" y="292" width="2" height="27" fill="#089981"/>
<rect x="2367" y="295" width="12" height="20" fill="#089981"/>
<rect x="2386" y="268" width="2" height="37" fill="#089981"/>
<rect x="2381" y="276" width="12" height="19" fill="#089981"/>
<rect x="2401" y="240" width="2" height="40" fill="#089981"/>
<rect x="2396" y="248" width="12" height="30" fill="#089981"/>
<rect x="2415" y="236" width="2" height="42" fill="#F23645"/>
<rect x="2410" y="237" width="12" height="41" fill="#F23645"/>
<rect x="2430" y="266" width="2" height="18" fill="#F23645"/>
<rect x="2425" y="276" width="12" height="2" fill="#F23645"/>
</g>
<line x1="20" y1="277" x2="2606" y2="277" stroke="#F23645" stroke-width="2" stroke-dasharray="2 4"/>
<path d="M19.5 1066.0 L19.5 1098.1 L34.1 1080.6 L48.6 1071.1 L63.1 1079.9 L77.6 1054.1 L92.2 1044.7 L106.7 1118.1 L121.2 1129.0 L135.7 1128.8 L150.3 1121.0 L164.8 1228.2 L179.3 1177.1 L193.8 1199.9 L208.4 1251.6 L222.9 1266.9 L237.4 1282.3 L251.9 1287.3 L266.5 1288.7 L281.0 1230.1 L295.5 1210.1 L310.0 1191.9 L324.6 1173.7 L339.1 1135.6 L353.6 1213.0 L368.1 1207.1 L382.7 1204.4 L397.2 1203.3 L411.7 1190.3 L426.2 1201.7 L440.8 1195.8 L455.3 1189.6 L469.8 1208.9 L484.3 1207.3 L498.9 1172.6 L513.4 1140.8 L527.9 1119.7 L542.4 1165.3 L557.0 1198.3 L571.5 1193.7 L586.0 1200.5 L600.5 1255.0 L615.1 1244.6 L629.6 1211.9 L644.1 1221.4 L658.6 1217.3 L673.2 1197.6 L687.7 1211.2 L702.2 1226.4 L716.7 1199.9 L731.3 1165.1 L745.8 1186.7 L760.3 1190.8 L774.8 1174.9 L789.4 1161.7 L803.9 1150.3 L818.4 1129.9 L832.9 1168.1 L847.5 1151.0 L862.0 1130.1 L876.5 1113.6 L891.0 1131.3 L905.6 1127.2 L920.1 1091.3 L934.6 1081.1 L949.1 1083.8 L963.7 1069.9 L978.2 1120.4 L992.7 1099.9 L1007.2 1106.7 L1021.8 1076.1 L1036.3 1072.7 L1050.8 1059.0 L1065.3 1040.9 L1079.9 1024.5 L1094.4 1046.1 L1108.9 1042.7 L1123.4 1014.3 L1138.0 1034.1 L1152.5 1029.5 L1167.0 1015.9 L1181.5 1093.6 L1196.1 1080.6 L1210.6 1056.8 L1225.1 1059.7 L1239.6 1055.2 L1254.2 1060.6 L1268.7 1049.5 L1283.2 1112.0 L1297.7 1111.1 L1312.3 1167.4 L1326.8 1190.3 L1341.3 1151.0 L1355.8 1129.5 L1370.4 1128.3 L1384.9 1139.2 L1399.4 1141.9 L1413.9 1170.3 L1428.5 1140.8 L1443.0 1121.5 L1457.5 1076.8 L1472.0 1082.2 L1486.6 1069.9 L1501.1 1048.1 L1515.6 1040.4 L1530.1 1045.0 L1544.7 1080.6 L1559.2 1099.2 L1573.7 1092.7 L1588.2 1094.2 L1602.8 1060.9 L1617.3 1042.0 L1631.8 1020.0 L1646.3 1037.0 L1660.9 1026.1 L1675.4 1057.2 L1689.9 1160.8 L1704.4 1213.5 L1719.0 1212.8 L1733.5 1132.4 L1748.0 1082.4 L1762.5 1058.4 L1777.1 1082.2 L1791.6 1073.8 L1806.1 1035.2 L1820.6 1048.4 L1835.2 1021.1 L1849.7 1056.1 L1864.2 1119.2 L1878.7 1097.7 L1893.3 1115.4 L1907.8 1106.1 L1922.3 1124.5 L1936.8 1142.6 L1951.4 1171.9 L1965.9 1169.9 L1980.4 1124.5 L1994.9 1090.8 L2009.5 1129.9 L2024.0 1160.6 L2038.5 1152.6 L2053.0 1196.0 L2067.6 1189.2 L2082.1 1221.0 L2096.6 1191.5 L2111.1 1207.1 L2125.7 1194.6 L2140.2 1166.5 L2154.7 1155.6 L2169.2 1166.9 L2183.8 1139.0 L2198.3 1148.8 L2212.8 1171.9 L2227.3 1178.3 L2241.9 1163.1 L2256.4 1179.9 L2270.9 1135.1 L2285.4 1152.2 L2300.0 1143.1 L2314.5 1155.6 L2329.0 1181.7 L2343.5 1173.1 L2358.1 1174.9 L2372.6 1154.4 L2387.1 1138.1 L2401.6 1114.2 L2416.2 1149.4 L2430.7 1150.1 L2430.7 1066.0 Z" fill="url(#ob)" fill-opacity="0.9" clip-path="url(#ob70)"/>
<g clip-path="url(#rsiclip)">
<line x1="20" y1="1066.0" x2="2606" y2="1066.0" stroke="#676b7e" stroke-opacity="1" stroke-width="2" stroke-dasharray="10 12"/>
<line x1="20" y1="1188.0" x2="2606" y2="1188.0" stroke="#676b7e" stroke-opacity="0.55" stroke-width="2" stroke-dasharray="10 12"/>
<line x1="20" y1="1311.0" x2="2606" y2="1311.0" stroke="#676b7e" stroke-opacity="1" stroke-width="2" stroke-dasharray="10 12"/>
</g>
<g fill="none" stroke-linejoin="round" stroke-linecap="butt">
<path d="M21.0 1098.1 L34.1 1080.6 L48.6 1071.1 L63.1 1079.9 L77.6 1054.1 L92.2 1044.7 L106.7 1118.1 L121.2 1129.0 L135.7 1128.8 L150.3 1121.0 L164.8 1228.2 L179.3 1177.1 L193.8 1199.9 L208.4 1251.6 L222.9 1266.9 L237.4 1282.3 L251.9 1287.3 L266.5 1288.7 L281.0 1230.1 L295.5 1210.1 L310.0 1191.9 L324.6 1173.7 L339.1 1135.6 L353.6 1213.0 L368.1 1207.1 L382.7 1204.4 L397.2 1203.3 L411.7 1190.3 L426.2 1201.7 L440.8 1195.8 L455.3 1189.6 L469.8 1208.9 L484.3 1207.3 L498.9 1172.6 L513.4 1140.8 L527.9 1119.7 L542.4 1165.3 L557.0 1198.3 L571.5 1193.7 L586.0 1200.5 L600.5 1255.0 L615.1 1244.6 L629.6 1211.9 L644.1 1221.4 L658.6 1217.3 L673.2 1197.6 L687.7 1211.2 L702.2 1226.4 L716.7 1199.9 L731.3 1165.1 L745.8 1186.7 L760.3 1190.8 L774.8 1174.9 L789.4 1161.7 L803.9 1150.3 L818.4 1129.9 L832.9 1168.1 L847.5 1151.0 L862.0 1130.1 L876.5 1113.6 L891.0 1131.3 L905.6 1127.2 L920.1 1091.3 L934.6 1081.1 L949.1 1083.8 L963.7 1069.9 L978.2 1120.4 L992.7 1099.9 L1007.2 1106.7 L1021.8 1076.1 L1036.3 1072.7 L1050.8 1059.0 L1065.3 1040.9 L1079.9 1024.5 L1094.4 1046.1 L1108.9 1042.7 L1123.4 1014.3 L1138.0 1034.1 L1152.5 1029.5 L1167.0 1015.9 L1181.5 1093.6 L1196.1 1080.6 L1210.6 1056.8 L1225.1 1059.7 L1239.6 1055.2 L1254.2 1060.6 L1268.7 1049.5 L1283.2 1112.0 L1297.7 1111.1 L1312.3 1167.4 L1326.8 1190.3 L1341.3 1151.0 L1355.8 1129.5 L1370.4 1128.3 L1384.9 1139.2 L1399.4 1141.9 L1413.9 1170.3 L1428.5 1140.8 L1443.0 1121.5 L1457.5 1076.8 L1472.0 1082.2 L1486.6 1069.9 L1501.1 1048.1 L1515.6 1040.4 L1530.1 1045.0 L1544.7 1080.6 L1559.2 1099.2 L1573.7 1092.7 L1588.2 1094.2 L1602.8 1060.9 L1617.3 1042.0 L1631.8 1020.0 L1646.3 1037.0 L1660.9 1026.1 L1675.4 1057.2 L1689.9 1160.8 L1704.4 1213.5 L1719.0 1212.8 L1733.5 1132.4 L1748.0 1082.4 L1762.5 1058.4 L1777.1 1082.2 L1791.6 1073.8 L1806.1 1035.2 L1820.6 1048.4 L1835.2 1021.1 L1849.7 1056.1 L1864.2 1119.2 L1878.7 1097.7 L1893.3 1115.4 L1907.8 1106.1 L1922.3 1124.5 L1936.8 1142.6 L1951.4 1171.9 L1965.9 1169.9 L1980.4 1124.5 L1994.9 1090.8 L2009.5 1129.9 L2024.0 1160.6 L2038.5 1152.6 L2053.0 1196.0 L2067.6 1189.2 L2082.1 1221.0 L2096.6 1191.5 L2111.1 1207.1 L2125.7 1194.6 L2140.2 1166.5 L2154.7 1155.6 L2169.2 1166.9 L2183.8 1139.0 L2198.3 1148.8 L2212.8 1171.9 L2227.3 1178.3 L2241.9 1163.1 L2256.4 1179.9 L2270.9 1135.1 L2285.4 1152.2 L2300.0 1143.1 L2314.5 1155.6 L2329.0 1181.7 L2343.5 1173.1 L2358.1 1174.9 L2372.6 1154.4 L2387.1 1138.1 L2401.6 1114.2 L2416.2 1149.4 L2430.7 1150.1" stroke="#7E57C2" stroke-width="1.8"/>
<path d="M21.0 1102.9 L34.1 1102.2 L48.6 1099.2 L63.1 1094.7 L77.6 1086.3 L92.2 1079.0 L106.7 1079.5 L121.2 1079.5 L135.7 1080.6 L150.3 1082.4 L164.8 1093.1 L179.3 1101.1 L193.8 1111.7 L208.4 1127.2 L222.9 1139.7 L237.4 1153.3 L251.9 1170.3 L266.5 1186.7 L281.0 1199.9 L295.5 1210.1 L310.0 1214.6 L324.6 1217.3 L339.1 1217.6 L353.6 1224.2 L368.1 1223.0 L382.7 1224.8 L397.2 1224.8 L411.7 1220.3 L426.2 1215.8 L440.8 1209.6 L455.3 1203.3 L469.8 1197.1 L484.3 1195.3 L498.9 1192.6 L513.4 1189.2 L527.9 1185.5 L542.4 1187.4 L557.0 1186.7 L571.5 1185.8 L586.0 1185.5 L600.5 1189.2 L615.1 1192.6 L629.6 1193.7 L644.1 1195.3 L658.6 1197.1 L673.2 1196.0 L687.7 1196.4 L702.2 1199.9 L716.7 1204.4 L731.3 1207.3 L745.8 1209.4 L760.3 1208.5 L774.8 1207.1 L789.4 1204.4 L803.9 1197.1 L818.4 1189.2 L832.9 1185.8 L847.5 1181.2 L862.0 1174.9 L876.5 1168.7 L891.0 1163.1 L905.6 1155.6 L920.1 1147.6 L934.6 1141.5 L949.1 1135.1 L963.7 1126.0 L978.2 1122.2 L992.7 1117.6 L1007.2 1114.7 L1021.8 1110.8 L1036.3 1103.3 L1050.8 1096.5 L1065.3 1090.8 L1079.9 1084.0 L1094.4 1077.9 L1108.9 1072.0 L1123.4 1067.0 L1138.0 1062.5 L1152.5 1058.6 L1167.0 1055.6 L1181.5 1054.1 L1196.1 1052.7 L1210.6 1048.8 L1225.1 1047.7 L1239.6 1046.8 L1254.2 1047.0 L1268.7 1047.7 L1283.2 1052.9 L1297.7 1058.6 L1312.3 1067.7 L1326.8 1079.5 L1341.3 1088.1 L1355.8 1095.8 L1370.4 1103.8 L1384.9 1107.2 L1399.4 1111.3 L1413.9 1118.8 L1428.5 1124.9 L1443.0 1129.9 L1457.5 1131.0 L1472.0 1133.3 L1486.6 1130.1 L1501.1 1125.6 L1515.6 1117.0 L1530.1 1106.3 L1544.7 1101.1 L1559.2 1098.8 L1573.7 1096.5 L1588.2 1093.1 L1602.8 1087.0 L1617.3 1078.8 L1631.8 1070.4 L1646.3 1064.3 L1660.9 1060.2 L1675.4 1059.0 L1689.9 1065.9 L1704.4 1077.2 L1719.0 1089.0 L1733.5 1095.4 L1748.0 1095.4 L1762.5 1092.4 L1777.1 1091.5 L1791.6 1090.2 L1806.1 1088.6 L1820.6 1089.0 L1835.2 1089.0 L1849.7 1090.8 L1864.2 1096.5 L1878.7 1099.2 L1893.3 1097.0 L1907.8 1089.7 L1922.3 1082.9 L1936.8 1083.6 L1951.4 1089.7 L1965.9 1097.7 L1980.4 1100.6 L1994.9 1101.7 L2009.5 1108.6 L2024.0 1117.0 L2038.5 1126.5 L2053.0 1135.6 L2067.6 1140.8 L2082.1 1149.4 L2096.6 1155.6 L2111.1 1161.9 L2125.7 1167.4 L2140.2 1169.2 L2154.7 1168.1 L2169.2 1168.1 L2183.8 1169.2 L2198.3 1172.6 L2212.8 1175.6 L2227.3 1177.1 L2241.9 1177.8 L2256.4 1176.7 L2270.9 1172.6 L2285.4 1168.1 L2300.0 1164.7 L2314.5 1160.8 L2329.0 1160.1 L2343.5 1160.1 L2358.1 1161.9 L2372.6 1160.8 L2387.1 1160.6 L2401.6 1158.3 L2416.2 1156.7 L2430.7 1154.9" stroke="#FFEB3B" stroke-width="1.9"/>
</g>
<text x="2624.9" y="938.8" font-size="23.7" fill="#131722" stroke="#131722" stroke-width="0.15" textLength="103.3" lengthAdjust="spacingAndGlyphs">2,300.00</text>
<text x="2624.9" y="878.3" font-size="23.7" fill="#131722" stroke="#131722" stroke-width="0.15" textLength="103.3" lengthAdjust="spacingAndGlyphs">2,400.00</text>
<text x="2624.9" y="817.9" font-size="23.7" fill="#131722" stroke="#131722" stroke-width="0.15" textLength="103.3" lengthAdjust="spacingAndGlyphs">2,500.00</text>
<text x="2624.9" y="757.5" font-size="23.7" fill="#131722" stroke="#131722" stroke-width="0.15" textLength="103.3" lengthAdjust="spacingAndGlyphs">2,600.00</text>
<text x="2624.9" y="697.1" font-size="23.7" fill="#131722" stroke="#131722" stroke-width="0.15" textLength="103.3" lengthAdjust="spacingAndGlyphs">2,700.00</text>
<text x="2624.9" y="636.7" font-size="23.7" fill="#131722" stroke="#131722" stroke-width="0.15" textLength="103.3" lengthAdjust="spacingAndGlyphs">2,800.00</text>
<text x="2624.9" y="576.2" font-size="23.7" fill="#131722" stroke="#131722" stroke-width="0.15" textLength="103.3" lengthAdjust="spacingAndGlyphs">2,900.00</text>
<text x="2624.9" y="515.8" font-size="23.7" fill="#131722" stroke="#131722" stroke-width="0.15" textLength="103.3" lengthAdjust="spacingAndGlyphs">3,000.00</text>
<text x="2624.9" y="455.4" font-size="23.7" fill="#131722" stroke="#131722" stroke-width="0.15" textLength="103.3" lengthAdjust="spacingAndGlyphs">3,100.00</text>
<text x="2624.9" y="395.0" font-size="23.7" fill="#131722" stroke="#131722" stroke-width="0.15" textLength="103.3" lengthAdjust="spacingAndGlyphs">3,200.00</text>
<text x="2624.9" y="334.6" font-size="23.7" fill="#131722" stroke="#131722" stroke-width="0.15" textLength="103.3" lengthAdjust="spacingAndGlyphs">3,300.00</text>
<text x="2624.9" y="274.1" font-size="23.7" fill="#131722" stroke="#131722" stroke-width="0.15" textLength="103.3" lengthAdjust="spacingAndGlyphs">3,400.00</text>
<text x="2624.9" y="213.7" font-size="23.7" fill="#131722" stroke="#131722" stroke-width="0.15" textLength="103.3" lengthAdjust="spacingAndGlyphs">3,500.00</text>
<text x="2624.9" y="153.3" font-size="23.7" fill="#131722" stroke="#131722" stroke-width="0.15" textLength="103.3" lengthAdjust="spacingAndGlyphs">3,600.00</text>
<text x="2624.9" y="1013.3" font-size="23.7" fill="#131722" stroke="#131722" stroke-width="0.15" textLength="66.1" lengthAdjust="spacingAndGlyphs">80.00</text>
<text x="2624.9" y="1074.5" font-size="23.7" fill="#131722" stroke="#131722" stroke-width="0.15" textLength="66.1" lengthAdjust="spacingAndGlyphs">70.00</text>
<text x="2624.9" y="1135.7" font-size="23.7" fill="#131722" stroke="#131722" stroke-width="0.15" textLength="66.1" lengthAdjust="spacingAndGlyphs">60.00</text>
<text x="2624.9" y="1258.1" font-size="23.7" fill="#131722" stroke="#131722" stroke-width="0.15" textLength="66.1" lengthAdjust="spacingAndGlyphs">40.00</text>
<text x="2624.9" y="1319.3" font-size="23.7" fill="#131722" stroke="#131722" stroke-width="0.15" textLength="66.1" lengthAdjust="spacingAndGlyphs">30.00</text>
<path d="M2608 260 H2736 a4 4 0 0 1 4 4 V290 a4 4 0 0 1 -4 4 H2608 Z" fill="#F23645"/>
<text x="2624.9" y="283.6" font-size="23.7" fill="#fff" stroke="#fff" stroke-width="0.15" textLength="103.3" lengthAdjust="spacingAndGlyphs">3,384.28</text>
<path d="M2608 294 H2736 a4 4 0 0 1 4 4 V324 a4 4 0 0 1 -4 4 H2608 Z" fill="#4CAF50"/>
<text x="2624.9" y="317.6" font-size="23.7" fill="#fff" stroke="#fff" stroke-width="0.15" textLength="103.3" lengthAdjust="spacingAndGlyphs">3,343.38</text>
<path d="M2608 328 H2736 a4 4 0 0 1 4 4 V358 a4 4 0 0 1 -4 4 H2608 Z" fill="#000"/>
<text x="2624.9" y="351.6" font-size="23.7" fill="#fff" stroke="#fff" stroke-width="0.15" textLength="103.3" lengthAdjust="spacingAndGlyphs">3,300.63</text>
<path d="M2608 419 H2736 a4 4 0 0 1 4 4 V449 a4 4 0 0 1 -4 4 H2608 Z" fill="#F23645"/>
<text x="2624.9" y="442.6" font-size="23.7" fill="#fff" stroke="#fff" stroke-width="0.15" textLength="103.3" lengthAdjust="spacingAndGlyphs">3,121.77</text>
<path d="M2608 560 H2736 a4 4 0 0 1 4 4 V590 a4 4 0 0 1 -4 4 H2608 Z" fill="#FFEB3B"/>
<text x="2624.9" y="583.6" font-size="23.7" fill="#000" stroke="#000" stroke-width="0.15" textLength="103.3" lengthAdjust="spacingAndGlyphs">2,888.30</text>
<path d="M2608 1133 H2698 a4 4 0 0 1 4 4 V1163 a4 4 0 0 1 -4 4 H2608 Z" fill="#7E57C2"/>
<text x="2624.9" y="1158.1" font-size="23.7" fill="#fff" stroke="#fff" stroke-width="0.15" textLength="63.9" lengthAdjust="spacingAndGlyphs">56.21</text>
<path d="M2608 1167 H2698 a4 4 0 0 1 4 4 V1197 a4 4 0 0 1 -4 4 H2608 Z" fill="#FFEB3B"/>
<text x="2624.9" y="1192.1" font-size="23.7" fill="#000" stroke="#000" stroke-width="0.15" textLength="66.1" lengthAdjust="spacingAndGlyphs">55.48</text>
<text x="121.2" y="1380" font-size="24.3" fill="#131722" stroke="#131722" stroke-width="0.2" text-anchor="middle">Nov</text>
<text x="426.2" y="1380" font-size="24.3" fill="#131722" stroke="#131722" stroke-width="0.2" text-anchor="middle">Dec</text>
<text x="731.3" y="1380" font-size="24.3" fill="#131722" stroke="#131722" stroke-width="0.2" text-anchor="middle" font-weight="bold" textLength="63.5" lengthAdjust="spacing">2025</text>
<text x="1050.8" y="1380" font-size="24.3" fill="#131722" stroke="#131722" stroke-width="0.2" text-anchor="middle">Feb</text>
<text x="1341.3" y="1380" font-size="24.3" fill="#131722" stroke="#131722" stroke-width="0.2" text-anchor="middle">Mar</text>
<text x="1646.3" y="1380" font-size="24.3" fill="#131722" stroke="#131722" stroke-width="0.2" text-anchor="middle">Apr</text>
<text x="1951.4" y="1380" font-size="24.3" fill="#131722" stroke="#131722" stroke-width="0.2" text-anchor="middle">May</text>
<text x="2270.9" y="1380" font-size="24.3" fill="#131722" stroke="#131722" stroke-width="0.2" text-anchor="middle">Jun</text>
<text x="2575.9" y="1380" font-size="24.3" fill="#131722" stroke="#131722" stroke-width="0.2" text-anchor="middle">Jul</text>
<text x="36.5" y="162" font-size="24.3" fill="#131722" stroke="#131722" stroke-width="0.2" textLength="276.0" lengthAdjust="spacingAndGlyphs">Gold · 1D · CAPITALCOM</text>
<text x="326.5" y="162" font-size="24.3" fill="#131722" stroke="#131722" stroke-width="0.2" textLength="17.5" lengthAdjust="spacingAndGlyphs">O</text>
<text x="345.0" y="162" font-size="24.3" fill="#F23645" stroke="#F23645" stroke-width="0.2" textLength="99.5" lengthAdjust="spacingAndGlyphs">3,385.53</text>
<text x="459.5" y="162" font-size="24.3" fill="#131722" stroke="#131722" stroke-width="0.2" textLength="16.5" lengthAdjust="spacingAndGlyphs">H</text>
<text x="477.5" y="162" font-size="24.3" fill="#F23645" stroke="#F23645" stroke-width="0.2" textLength="95.0" lengthAdjust="spacingAndGlyphs">3,403.17</text>
<text x="588.0" y="162" font-size="24.3" fill="#131722" stroke="#131722" stroke-width="0.2" textLength="12.5" lengthAdjust="spacingAndGlyphs">L</text>
<text x="601.5" y="162" font-size="24.3" fill="#F23645" stroke="#F23645" stroke-width="0.2" textLength="98.0" lengthAdjust="spacingAndGlyphs">3,373.39</text>
<text x="714.5" y="162" font-size="24.3" fill="#131722" stroke="#131722" stroke-width="0.2" textLength="17.0" lengthAdjust="spacingAndGlyphs">C</text>
<text x="732.5" y="162" font-size="24.3" fill="#F23645" stroke="#F23645" stroke-width="0.2" textLength="100.0" lengthAdjust="spacingAndGlyphs">3,384.28</text>
<text x="847.5" y="162" font-size="24.3" fill="#F23645" stroke="#F23645" stroke-width="0.2" textLength="176.5" lengthAdjust="spacingAndGlyphs">−0.95 (−0.03%)</text>
<circle cx="2431" cy="951" r="23" fill="#fff"/>
<path d="M2450.02 946.26 A19.6 19.6 0 1 1 2437.06 932.36" fill="none" stroke="#9C27B0" stroke-width="2.8"/>
<polygon points="2436.4,940.3 2437.3,941.7 2431.9,950.3 2440.0,950.3 2426.3,961.9 2424.4,960.5 2430.5,951.8 2422.3,951.8" fill="#9C27B0"/>
<circle cx="2444.6" cy="937" r="8.8" fill="#fff"/>
<circle cx="2444.6" cy="937" r="5.1" fill="#F23645"/>
<g fill="#111">
<path d="M20 1422 H35.6 V1441.3 H27.6 V1430 H20 Z"/>
<circle cx="42.3" cy="1426.5" r="4.5"/>
<path d="M50 1422 H59.4 L50.9 1441.3 H41.6 Z"/>
<text x="66.3" y="1442.6" font-size="27.6" stroke="#111" stroke-width="0.55" textLength="149" lengthAdjust="spacingAndGlyphs">TradingView</text>
</g>
</svg>
</body></html>
